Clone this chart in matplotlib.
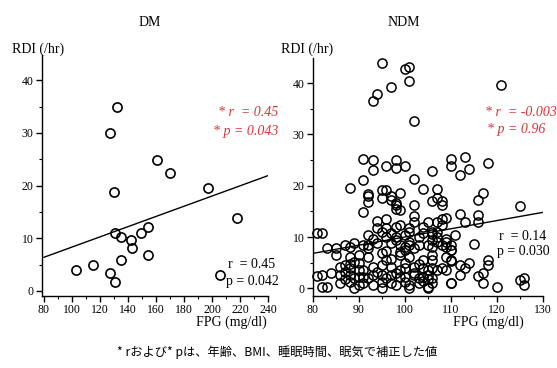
import matplotlib
matplotlib.use("Agg")
import matplotlib.pyplot as plt
from matplotlib.ticker import MultipleLocator
import numpy as np

# DM group: FPG (mg/dl) vs RDI (/hr)
dm_fpg = [132, 127, 130, 161, 170, 197, 218, 206, 103, 115, 127, 131, 135,
          131, 135, 142, 143, 149, 154, 154]
dm_rdi = [35.0, 30.0, 18.7, 24.9, 22.4, 19.6, 13.8, 3.0, 4.0, 5.0, 3.5, 1.8, 5.9,
          11.1, 10.2, 9.7, 8.2, 11.1, 12.1, 6.8]
dm_fit_x = [80, 240]
dm_fit_y = [6.4, 21.9]

# NDM group
ndm_fpg = [
    95, 100, 101, 101, 97, 94, 93, 102, 121,
    91, 93, 93, 96, 98, 98, 100, 102, 106, 110, 110, 113, 114, 112, 118, 91,
    88, 92, 92, 92, 91, 95, 96, 95, 97, 98, 98, 99, 99, 102, 104, 106, 108,
    107, 108, 112, 113, 116, 116, 116, 117, 125, 97, 98, 107,
    94, 96, 94, 96, 98, 99, 102, 102, 101, 104, 105, 108, 109, 107, 108,
    81, 82, 92, 93, 95, 96, 97, 98, 100, 101, 103, 104, 106, 107, 107, 109,
    111, 107,
    89, 91, 92, 92, 97, 99, 101, 100, 102, 103, 105, 108, 109, 110,
    83, 85, 87, 88,
    85, 88, 90, 92, 95, 96, 97, 99, 101, 104, 106, 109, 110,
    86, 87, 88, 90, 91, 93, 95, 97, 99, 100, 102, 104, 107, 108, 109, 112, 114,
    82, 84, 86, 88, 90, 91, 93, 95, 97, 99, 100, 102, 104, 105, 112,
    82, 83, 86, 88, 90, 91, 93, 95, 97, 98, 100, 101, 103, 105, 110,
    89, 95, 101, 105,
    113, 110, 110, 110, 110, 109, 116, 117, 118, 118, 117, 120, 125, 126, 126,
    115, 81,
    87, 88, 89, 87, 89, 100, 101, 99, 102, 103, 104, 105, 106, 106, 106, 106,
    106, 106, 106, 105, 103, 92, 94, 96, 98, 90, 94, 96, 98, 100,
]
ndm_rdi = [
    43.9, 42.8, 43.1, 40.4, 39.3, 37.9, 36.6, 32.6, 39.7,
    25.2, 25.0, 23.0, 23.9, 25.0, 23.4, 23.9, 21.3, 22.9, 25.2, 23.9, 25.6, 23.2, 22.0, 24.4, 21.1,
    19.6, 18.4, 17.9, 16.9, 14.8, 19.2, 19.2, 17.6, 18.0, 16.6, 16.3, 15.3, 18.6, 16.3, 19.4, 17.1, 17.1,
    19.4, 16.3, 14.5, 12.9, 12.9, 14.2, 17.2, 18.5, 16.0, 17.2, 15.5, 17.6,
    13.1, 13.6, 11.7, 11.7, 12.0, 12.4, 14.0, 13.0, 11.7, 12.0, 13.0, 13.6, 13.8, 13.0, 12.4,
    10.7, 10.7, 10.4, 9.7, 11.0, 10.1, 10.7, 10.1, 10.4, 11.0, 10.1, 10.7, 11.0, 11.0, 10.1, 9.7,
    10.4, 9.1,
    8.8, 8.4, 8.4, 7.8, 8.8, 8.4, 8.4, 7.5, 7.8, 8.4, 8.4, 8.4, 8.1, 7.5,
    7.8, 7.8, 8.4, 8.1,
    6.5, 6.2, 6.5, 6.2, 6.8, 5.5, 5.8, 6.5, 6.2, 5.5, 5.5, 6.2, 5.5,
    4.2, 4.5, 3.9, 3.6, 3.6, 4.2, 4.5, 4.2, 3.6, 3.9, 4.2, 3.9, 3.6, 3.9, 3.6, 4.5, 4.9,
    2.6, 2.9, 2.6, 2.6, 2.3, 2.3, 2.6, 2.6, 2.6, 2.3, 2.3, 2.6, 2.3, 2.6, 2.6,
    0.3, 0.3, 1.0, 1.3, 0.6, 1.0, 0.6, 1.3, 1.0, 0.6, 1.3, 0.6, 1.0, 0.3, 1.0,
    0.0, 0.0, 0.0, 0.0,
    3.9, 1.1, 5.4, 8.4, 7.5, 9.1, 2.4, 2.9, 5.5, 4.5, 1.1, 0.3, 1.6, 2.1, 0.6,
    8.6, 2.4,
    3.2, 4.8, 2.0, 1.8, 5.2, 8.0, 9.0, 7.0, 3.0, 2.0, 1.5, 3.5, 9.5, 10.5, 8.0, 2.0,
    1.0, 4.0, 6.5, 1.8, 4.8, 2.0, 3.2, 2.0, 3.0, 5.0, 8.8, 7.2, 9.5, 5.0,
]
ndm_fit_x = [80, 130]
ndm_fit_y = [6.8, 14.8]

W, H = 557, 368
serif = "Liberation Serif"
red = "#d8343a"

fig = plt.figure(figsize=(W / 100, H / 100), dpi=100)


def style(ax):
    for s in ["top", "right"]:
        ax.spines[s].set_visible(False)
    for s in ["left", "bottom"]:
        ax.spines[s].set_linewidth(1.0)
    ax.tick_params(which="major", direction="out", length=4, width=1,
                   labelsize=8.5, pad=2)
    ax.tick_params(which="minor", direction="out", length=2.5, width=0.8)
    for lab in ax.get_xticklabels() + ax.get_yticklabels():
        lab.set_fontfamily(serif)


# DM panel
ax1 = fig.add_axes([42 / W, (H - 296) / H, (268 - 42) / W, (296 - 55) / H])
ax1.plot(dm_fpg, dm_rdi, "o", ms=6.6, mfc="none", mec="black", mew=1.2)
ax1.plot(dm_fit_x, dm_fit_y, color="black", lw=1.0)
ax1.set_xlim(78.6, 240)
ax1.set_ylim(-0.95, 44.8)
ax1.set_xticks(np.arange(80, 241, 20))
ax1.set_yticks([0, 10, 20, 30, 40])
ax1.xaxis.set_minor_locator(MultipleLocator(10))
ax1.yaxis.set_minor_locator(MultipleLocator(5))
style(ax1)

# NDM panel
ax2 = fig.add_axes([312.7 / W, (H - 296) / H, (542.7 - 312.7) / W, (296 - 58) / H])
ax2.plot(ndm_fpg, ndm_rdi, "o", ms=6.6, mfc="none", mec="black", mew=1.1,
         clip_on=False)
ax2.plot(ndm_fit_x, ndm_fit_y, color="black", lw=1.0)
ax2.set_xlim(80, 130)
ax2.set_ylim(-1.5, 44.9)
ax2.set_xticks(np.arange(80, 131, 10))
ax2.set_yticks([0, 10, 20, 30, 40])
ax2.xaxis.set_minor_locator(MultipleLocator(5))
ax2.yaxis.set_minor_locator(MultipleLocator(5))
style(ax2)


def ftext(x, y, s, **kw):
    fig.text(x / W, 1 - y / H, s, **kw)


ftext(150, 22, "DM", family=serif, fontsize=10, ha="center", va="center")
ftext(404, 22, "NDM", family=serif, fontsize=10, ha="center", va="center")
ftext(12, 49, "RDI (/hr)", family=serif, fontsize=10, ha="left", va="center")
ftext(281, 49, "RDI (/hr)", family=serif, fontsize=10, ha="left", va="center")
ftext(231, 322, "FPG (mg/dl)", family=serif, fontsize=10, ha="center", va="center")
ftext(488, 322, "FPG (mg/dl)", family=serif, fontsize=10, ha="center", va="center")

# adjusted stats (red)
ftext(278, 113, "* r  = 0.45", family=serif, style="italic", color=red,
      fontsize=10, ha="right", va="center")
ftext(278, 131, "* p = 0.043", family=serif, style="italic", color=red,
      fontsize=10, ha="right", va="center")
ftext(557, 112, "* r  = -0.003", family=serif, style="italic", color=red,
      fontsize=10, ha="right", va="center")
ftext(545, 130, "* p = 0.96", family=serif, style="italic", color=red,
      fontsize=10, ha="right", va="center")

# unadjusted stats
ftext(228, 264, "r  = 0.45", family=serif, fontsize=10, ha="left", va="center")
ftext(226, 281, "p = 0.042", family=serif, fontsize=10, ha="left", va="center")
ftext(499, 236, "r  = 0.14", family=serif, fontsize=10, ha="left", va="center")
ftext(497, 252, "p = 0.030", family=serif, fontsize=10, ha="left", va="center")

ftext(277, 352, "* rおよび* pは、年齢、BMI、睡眠時間、眠気で補正した値",
      family=["Noto Sans CJK JP", "DejaVu Sans"], fontsize=8.8,
      ha="center", va="center")

fig.savefig("out.png", dpi=100)
